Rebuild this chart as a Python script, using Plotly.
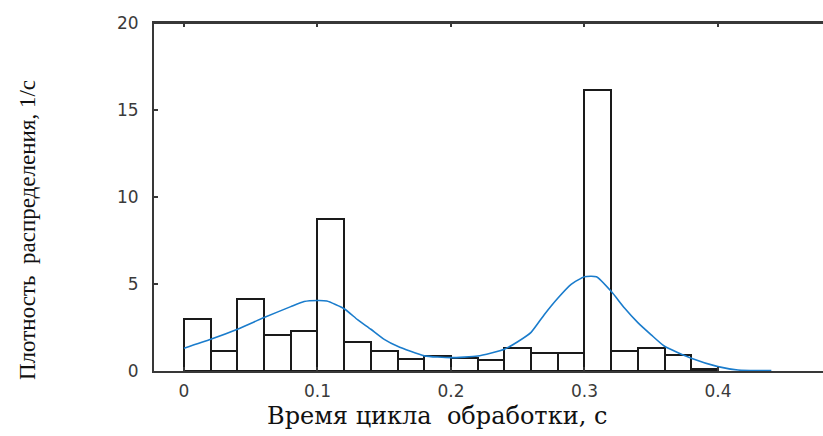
import plotly.graph_objects as go

# Histogram of machining cycle times (density, bin width 0.02 s)
bin_left = [0.00, 0.02, 0.04, 0.06, 0.08, 0.10, 0.12, 0.14, 0.16, 0.18,
            0.20, 0.22, 0.24, 0.26, 0.28, 0.30, 0.32, 0.34, 0.36, 0.38]
bin_width = 0.02
density = [2.99, 1.17, 4.12, 2.05, 2.28, 8.73, 1.67, 1.15, 0.71, 0.86,
           0.75, 0.63, 1.34, 1.02, 1.02, 16.16, 1.17, 1.34, 0.94, 0.12]

# Smoothed density estimate
kde_x = [0.000, 0.020, 0.040, 0.060, 0.080, 0.090, 0.100, 0.107, 0.120, 0.130,
         0.140, 0.150, 0.160, 0.180, 0.200, 0.220, 0.240, 0.250, 0.260, 0.270,
         0.280, 0.290, 0.300, 0.309, 0.320, 0.330, 0.340, 0.350, 0.360, 0.380,
         0.400, 0.415, 0.440]
kde_y = [1.31, 1.82, 2.40, 3.07, 3.70, 3.99, 4.05, 4.02, 3.58, 2.95,
         2.40, 1.82, 1.42, 0.87, 0.77, 0.86, 1.25, 1.68, 2.22, 3.25,
         4.18, 4.98, 5.42, 5.42, 4.58, 3.62, 2.78, 2.08, 1.42, 0.73,
         0.25, 0.06, 0.02]

x_ticks = [0, 0.1, 0.2, 0.3, 0.4]
x_tick_text = ["0", "0.1", "0.2", "0.3", "0.4"]
y_ticks = [0, 5, 10, 15, 20]

x_title = "Время цикла  обработки, с"
y_title = "Плотность  распределения, 1/с"

bin_centers = [b + bin_width / 2 for b in bin_left]

fig = go.Figure()
fig.add_trace(go.Bar(
    x=bin_centers, y=density, width=bin_width,
    marker=dict(color="white", line=dict(color="#1a1a1a", width=2)),
    showlegend=False,
))
fig.add_trace(go.Scatter(
    x=kde_x, y=kde_y, mode="lines",
    line=dict(color="#1a7ccc", width=1.6, shape="spline", smoothing=0.5),
    showlegend=False,
))

W, H = 823, 436
L, R, T, B = 154, 0, 23, 65
plot_w = W - L - R
plot_h = H - T - B

axis_col = "#383838"
tick_font = dict(family="DejaVu Sans", size=17, color="#3a3a3a")

fig.update_layout(
    width=W, height=H,
    margin=dict(l=L, r=R, t=T, b=B),
    paper_bgcolor="white", plot_bgcolor="white",
    bargap=0,
    xaxis=dict(
        range=[-0.02247, 0.4787],
        tickvals=x_ticks, ticktext=x_tick_text,
        ticks="inside", ticklen=4, tickcolor=axis_col, tickwidth=2,
        showline=True, linecolor=axis_col, linewidth=2, mirror="allticks",
        showgrid=False, zeroline=False,
        tickfont=tick_font,
        ticklabelstandoff=4,
    ),
    yaxis=dict(
        range=[0, 20],
        tickvals=y_ticks,
        ticks="inside", ticklen=4, tickcolor=axis_col, tickwidth=2,
        showline=True, linecolor=axis_col, linewidth=2, mirror=False,
        showgrid=False, zeroline=False,
        tickfont=tick_font,
        ticklabelstandoff=10,
    ),
    shapes=[
        # top frame edge
        dict(type="line", xref="paper", yref="paper", x0=0, x1=1, y0=1, y1=1,
             line=dict(color=axis_col, width=2), layer="above"),
    ],
    annotations=[
        dict(text=x_title, xref="paper", yref="paper",
             x=(437 - L) / plot_w, y=(H - B - 416) / plot_h,
             xanchor="center", yanchor="middle", showarrow=False,
             font=dict(family="DejaVu Serif", size=24, color="#111")),
        dict(text=y_title, xref="paper", yref="paper",
             x=(27 - L) / plot_w, y=(H - B - 230) / plot_h,
             xanchor="center", yanchor="middle", showarrow=False, textangle=-90,
             font=dict(family="Liberation Serif", size=23, color="#111")),
    ],
)

fig.write_html("out.html")
